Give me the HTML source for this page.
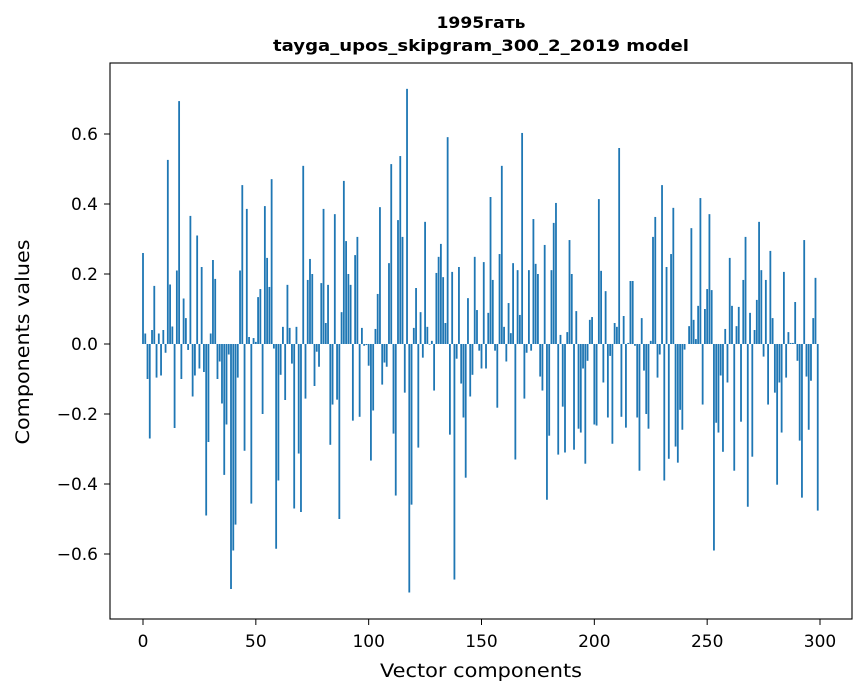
<!DOCTYPE html>
<html><head><meta charset="utf-8"><style>
body{margin:0;background:#fff;}
svg{display:block;font-family:"DejaVu Sans","Liberation Sans",sans-serif;}
</style></head><body>
<svg id="chart" width="867" height="696">
<text x="481" y="28" text-anchor="middle" font-size="16" font-weight="bold" textLength="89" lengthAdjust="spacingAndGlyphs">1995гать</text>
<text x="481" y="51" text-anchor="middle" font-size="16" font-weight="bold" textLength="416" lengthAdjust="spacingAndGlyphs">tayga_upos_skipgram_300_2_2019 model</text>
<g id="bars"></g>
<rect x="110" y="63" width="742" height="556" fill="none" stroke="#000" stroke-width="1.1"/>
<g id="xticks"></g>
<g id="yticks"></g>
<text x="481" y="677" text-anchor="middle" font-size="18.5" textLength="202" lengthAdjust="spacingAndGlyphs">Vector components</text>
<text transform="translate(29,342) rotate(-90)" text-anchor="middle" font-size="18.5" textLength="205" lengthAdjust="spacingAndGlyphs">Components values</text>
</svg>
<script>
const values = [0.26,0.03,-0.10,-0.27,0.04,0.166,-0.096,0.03,-0.09,0.04,
-0.025,0.526,0.17,0.05,-0.24,0.21,0.694,-0.10,0.13,0.074,
-0.017,0.366,-0.15,-0.09,0.31,-0.07,0.22,-0.08,-0.49,-0.28,
0.03,0.24,0.186,-0.10,-0.05,-0.17,-0.374,-0.23,-0.03,-0.70,
-0.59,-0.516,-0.096,0.21,0.454,-0.305,0.386,0.02,-0.456,0.017,
0.006,0.134,0.157,-0.2,0.394,0.246,0.163,0.471,-0.013,-0.585,
-0.39,-0.088,0.049,-0.16,0.169,0.046,-0.056,-0.47,0.049,-0.313,
-0.48,0.509,-0.156,0.183,0.243,0.2,-0.12,-0.022,-0.065,0.174,
0.386,0.06,0.169,-0.288,-0.173,0.371,-0.159,-0.5,0.091,0.466,
0.294,0.2,0.169,-0.219,0.254,0.306,-0.208,0.046,-0.005,-0.003,
-0.062,-0.333,-0.19,0.043,0.143,0.391,-0.116,-0.053,-0.065,0.231,
0.514,-0.256,-0.433,0.354,0.537,0.306,-0.139,0.729,-0.71,-0.459,
0.046,0.16,-0.296,0.091,-0.039,0.349,0.049,-0.002,0.009,-0.133,
0.203,0.249,0.286,0.191,0.06,0.591,-0.259,0.206,-0.673,-0.042,
0.22,-0.113,-0.21,-0.382,0.131,-0.15,-0.088,0.249,0.097,-0.019,
-0.07,0.234,-0.07,0.089,0.42,0.183,-0.019,-0.182,0.257,0.509,
0.049,-0.05,0.117,0.031,0.231,-0.33,0.211,0.083,0.603,-0.156,
-0.025,0.211,-0.019,0.357,0.229,0.2,-0.093,-0.133,0.283,-0.445,
-0.262,0.211,0.346,0.403,-0.316,0.026,-0.179,-0.31,0.034,0.297,
0.2,-0.302,0.094,-0.242,-0.253,-0.07,-0.342,-0.048,0.069,0.077,
-0.23,-0.233,0.414,0.209,-0.11,0.151,-0.21,-0.034,-0.285,0.06,
0.049,0.56,-0.208,0.08,-0.239,0.003,0.18,0.18,-0.005,-0.21,
-0.362,0.074,-0.076,-0.2,-0.242,0.009,0.306,0.363,-0.096,-0.03,
0.454,-0.39,0.22,-0.328,0.257,0.389,-0.293,-0.339,-0.188,-0.245,
-0.016,0.0,0.051,0.331,0.069,0.014,0.109,0.417,-0.173,0.1,
0.157,0.371,0.154,-0.59,-0.225,-0.253,-0.09,-0.308,0.043,-0.11,
0.246,0.109,-0.362,0.051,0.106,-0.222,0.183,0.306,-0.465,0.089,
-0.322,0.04,0.126,0.349,0.211,-0.036,0.183,-0.173,0.266,0.074,
-0.139,-0.402,-0.11,-0.253,0.206,-0.096,0.034,0.003,0.003,0.12,
-0.048,-0.276,-0.439,0.297,-0.093,-0.245,-0.105,0.074,0.189,-0.476];
const xTicks = [0,50,100,150,200,250,300];
const yTicks = [-0.6,-0.4,-0.2,0.0,0.2,0.4,0.6];
const yTickLabels = ["\u22120.6","\u22120.4","\u22120.2","0.0","0.2","0.4","0.6"];

const NS="http://www.w3.org/2000/svg";
function xs(i){return 143+i*(677/300);}
function ys(v){return 344-v*350;}
const bw=0.8*(677/300);
const gb=document.getElementById('bars');
values.forEach(function(v,i){
  const r=document.createElementNS(NS,'rect');
  r.setAttribute('x',xs(i)-bw/2);
  r.setAttribute('y',Math.min(ys(v),ys(0)));
  r.setAttribute('width',bw);
  r.setAttribute('height',Math.abs(ys(v)-ys(0)));
  r.setAttribute('fill','#1f77b4');
  
  
  gb.appendChild(r);
});
const gx=document.getElementById('xticks');
xTicks.forEach(function(t){
  const l=document.createElementNS(NS,'line');
  l.setAttribute('x1',xs(t));l.setAttribute('x2',xs(t));
  l.setAttribute('y1',619);l.setAttribute('y2',625);
  l.setAttribute('stroke','#000');
  
  
  gx.appendChild(l);
  const tx=document.createElementNS(NS,'text');
  tx.setAttribute('x',xs(t));tx.setAttribute('y',647);
  tx.setAttribute('text-anchor','middle');tx.setAttribute('font-size','17');
  tx.textContent=t;
  
  
  gx.appendChild(tx);
});
const gy=document.getElementById('yticks');
yTicks.forEach(function(t,k){
  const l=document.createElementNS(NS,'line');
  l.setAttribute('x1',104);l.setAttribute('x2',110);
  l.setAttribute('y1',ys(t));l.setAttribute('y2',ys(t));
  l.setAttribute('stroke','#000');
  
  
  gy.appendChild(l);
  const tx=document.createElementNS(NS,'text');
  tx.setAttribute('x',98);tx.setAttribute('y',ys(t)+6);
  tx.setAttribute('text-anchor','end');tx.setAttribute('font-size','17');
  tx.textContent=yTickLabels[k];
  
  
  gy.appendChild(tx);
});
</script>
</body></html>
